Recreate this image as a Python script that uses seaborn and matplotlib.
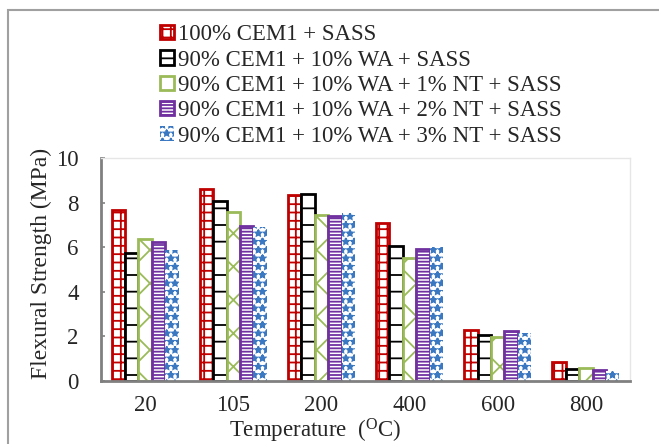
import matplotlib
matplotlib.use("Agg")
import matplotlib.pyplot as plt
import seaborn as sns
import pandas as pd
from matplotlib.patches import Patch, Rectangle

temperatures = ["20", "105", "200", "400", "600", "800"]
series_names = [
    "100% CEM1 + SASS",
    "90% CEM1 + 10% WA + SASS",
    "90% CEM1 + 10% WA + 1% NT + SASS",
    "90% CEM1 + 10% WA + 2% NT + SASS",
    "90% CEM1 + 10% WA + 3% NT + SASS",
]
cem100 = [7.67, 8.61, 8.34, 7.10, 2.30, 0.84]
wa10 = [5.73, 8.07, 8.37, 6.04, 2.08, 0.54]
nt1 = [6.35, 7.56, 7.44, 5.53, 1.97, 0.60]
nt2 = [6.23, 6.95, 7.41, 5.90, 2.24, 0.51]
nt3 = [5.87, 6.89, 7.52, 5.99, 2.17, 0.45]
series_values = [cem100, wa10, nt1, nt2, nt3]

colors = ["#C00000", "#000000", "#9BBB59", "#7030A0", "#3B78C2"]
hatches = ["++", "-", "x", "-----", "**"]
linewidths = [2.0, 2.0, 2.0, 2.0, 0.0]

rows = []
for name, vals in zip(series_names, series_values):
    for t, v in zip(temperatures, vals):
        rows.append({"Temperature": t, "Series": name, "Value": v})
df = pd.DataFrame(rows)

sns.set_style("white")
plt.rcParams["font.family"] = ["Liberation Serif", "DejaVu Serif"]
plt.rcParams["mathtext.fontset"] = "custom"
plt.rcParams["mathtext.rm"] = "Liberation Serif"
plt.rcParams["hatch.linewidth"] = 1.3

fig = plt.figure(figsize=(6.59, 4.44), dpi=100)
ax = fig.add_axes([101 / 659, 1 - 381 / 444, (630 - 101) / 659, (381 - 158) / 444])

sns.barplot(data=df, x="Temperature", y="Value", hue="Series",
            order=temperatures, hue_order=series_names,
            width=0.76, gap=0, ax=ax, legend=False, errorbar=None)

n = len(temperatures)
for i, patch in enumerate(ax.patches[: n * len(series_names)]):
    s = i // n
    patch.set_facecolor("white")
    patch.set_edgecolor(colors[s])
    patch.set_hatch(hatches[s])
    patch.set_linewidth(linewidths[s])

ax.set_ylim(0, 10)
ax.set_xlim(-0.5, 5.5)
ax.set_yticks([0, 2, 4, 6, 8, 10])
ax.tick_params(axis="y", direction="in", length=3, width=1.2, color="#808080",
               left=True, labelsize=16.5, pad=16)
ax.tick_params(axis="x", length=0, labelsize=16.5, pad=10)
ax.set_ylabel("Flexural Strength (MPa)", fontsize=17)
ax.yaxis.set_label_coords(-(101 - 52) / 529, (381 - 263) / 223)
ax.set_xlabel(r"Temperature  ($\mathregular{^{O}}$C)", fontsize=16.5)
ax.xaxis.set_label_coords((315 - 101) / 529, -0.16)
ax.xaxis.label.set_va("top")

for side in ["left", "bottom"]:
    ax.spines[side].set_color("#808080")
    ax.spines[side].set_linewidth(2)
for side in ["top", "right"]:
    ax.spines[side].set_color("#E6E6E6")
    ax.spines[side].set_linewidth(1)

handles = [Patch(facecolor="white", edgecolor=c, hatch=h, linewidth=lw if lw else 0)
           for c, h, lw in zip(colors, hatches, linewidths)]
fig.legend(handles, series_names, loc="upper left",
           bbox_to_anchor=(151 / 659, 1 - 15 / 444), frameon=False,
           fontsize=16.5, handlelength=0.6, handleheight=0.6, handletextpad=0.2,
           labelspacing=0.19, borderaxespad=0)

fig.patches.append(Rectangle((8 / 659, -0.2), 1.2, 1.2 - 10 / 444,
                             transform=fig.transFigure, fill=False,
                             edgecolor="#A0A0A0", linewidth=1.5))

fig.savefig("out.png", dpi=100)
